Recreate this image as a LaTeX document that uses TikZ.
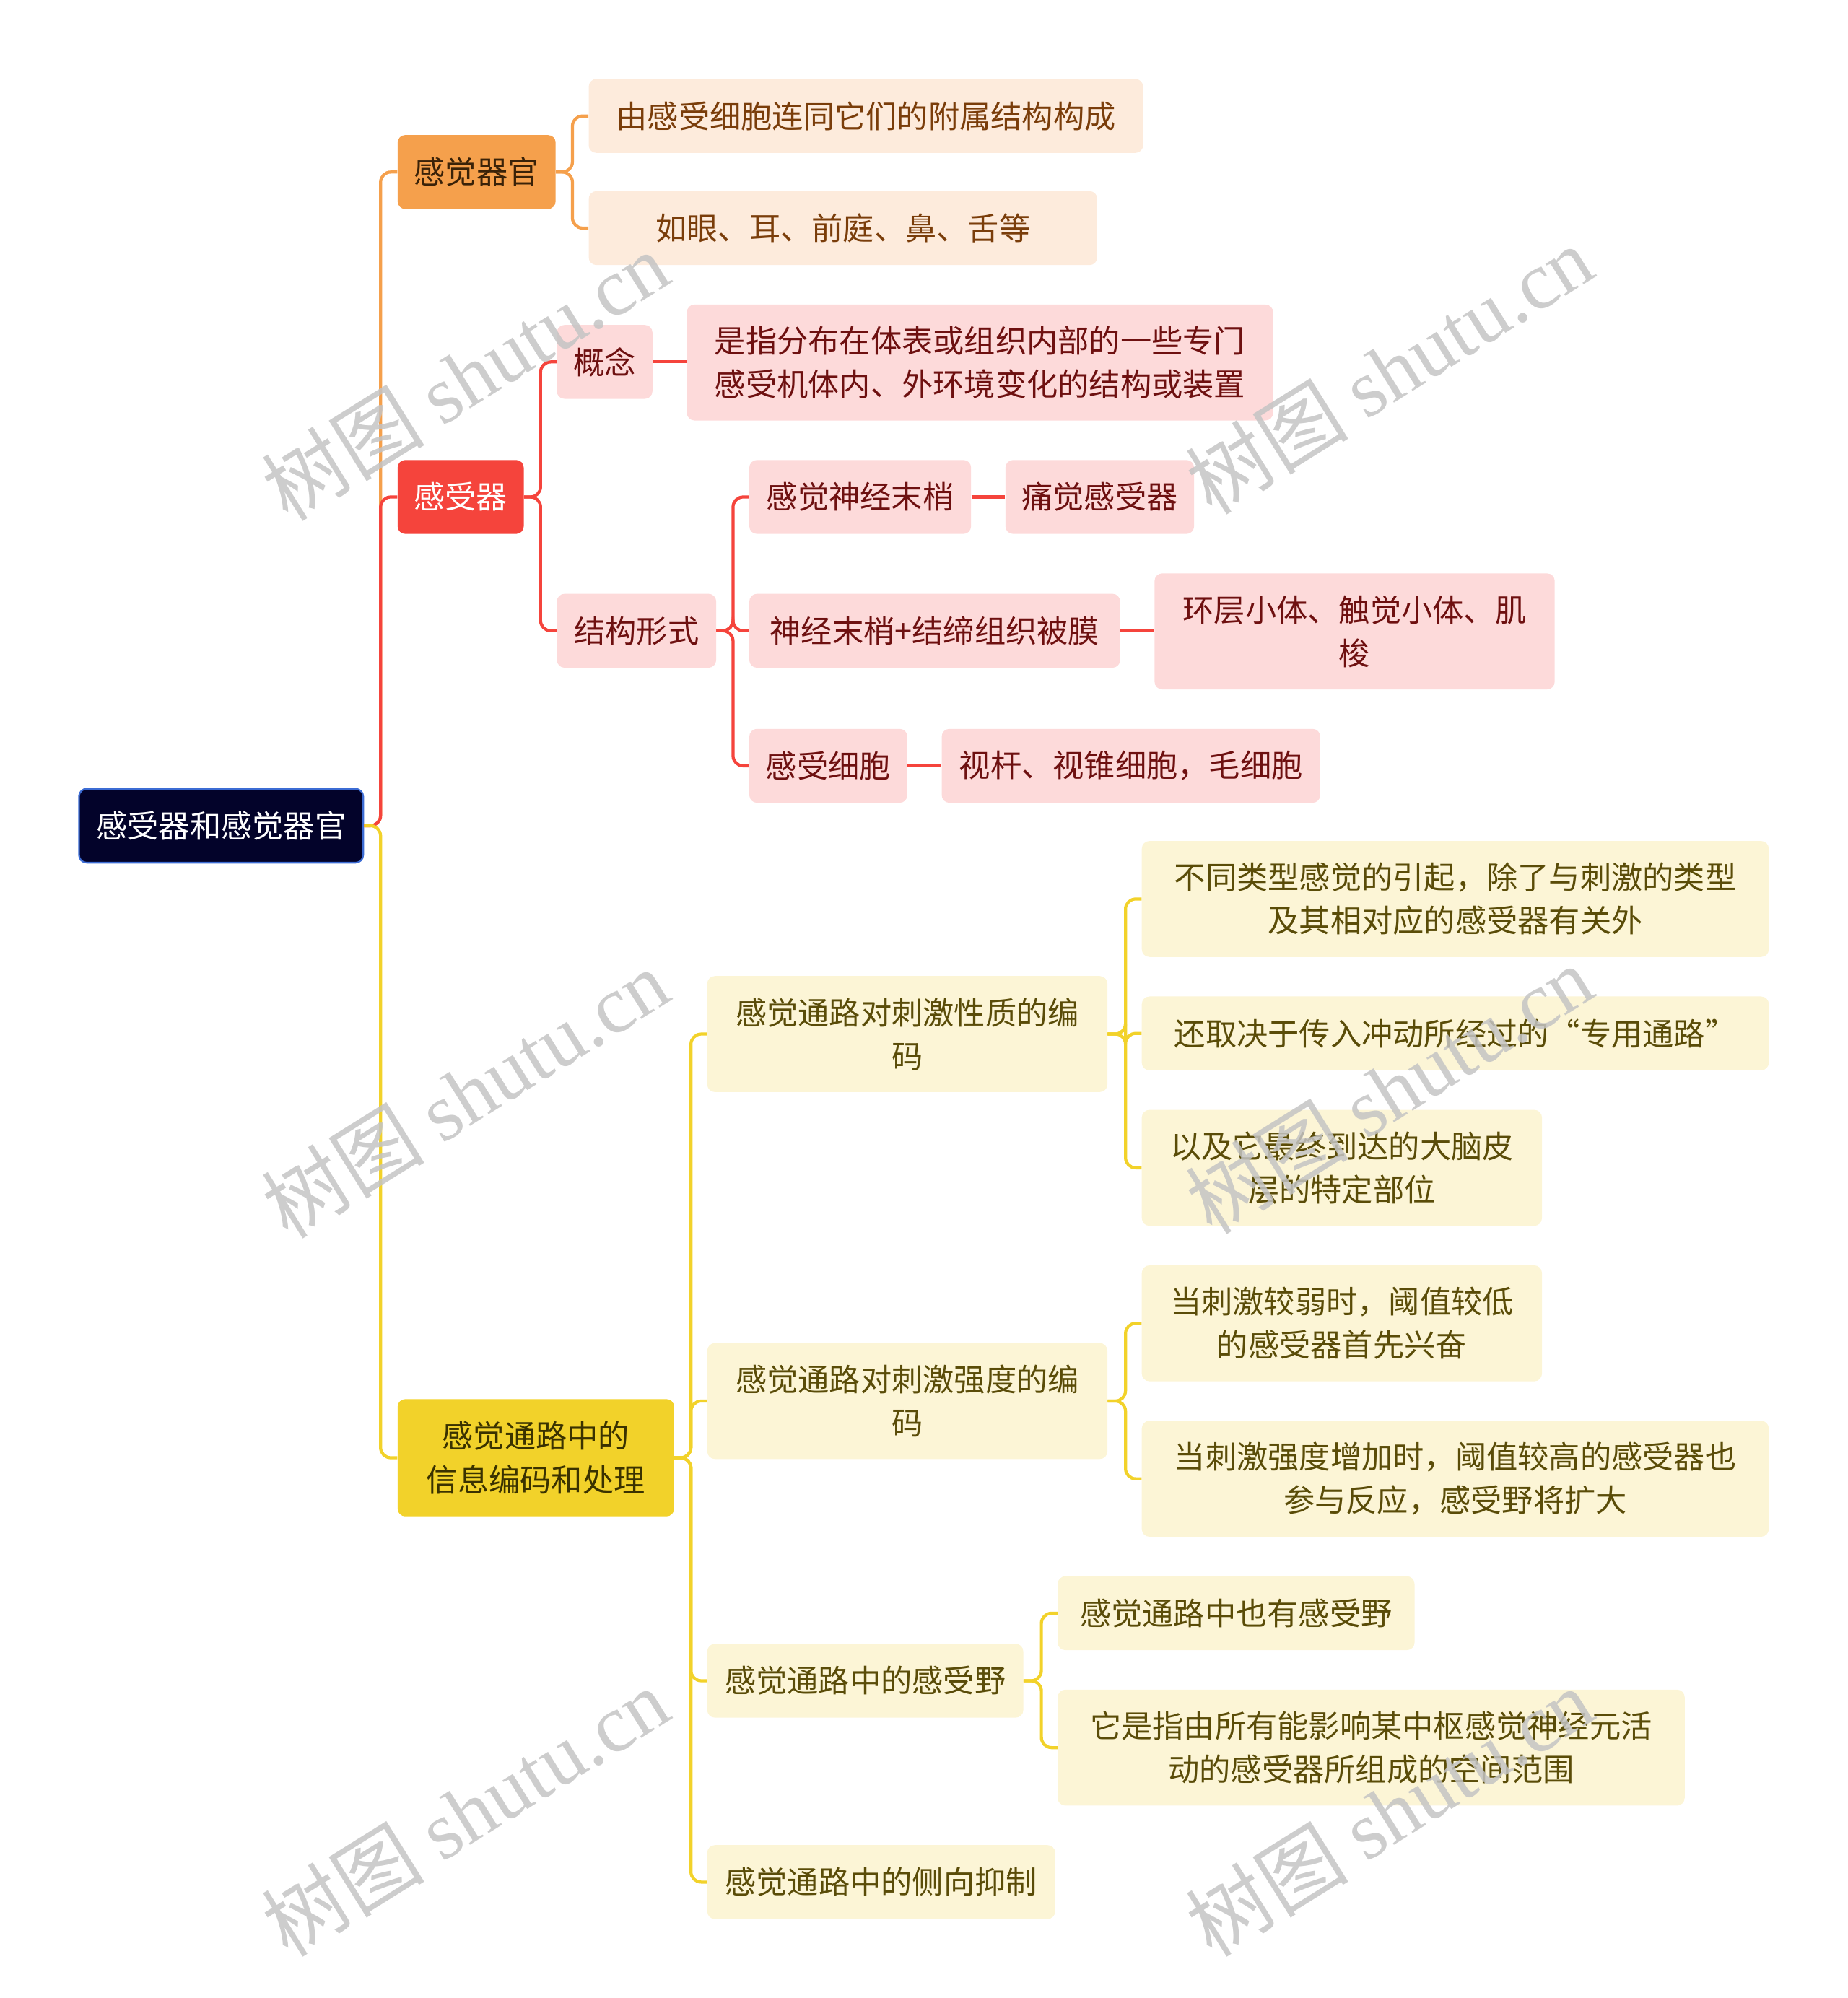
\documentclass[tikz,border=0pt]{standalone}
\usepackage{fontspec}
\setmainfont{Noto Sans CJK SC}
\newfontfamily\wmlatin{Liberation Serif}
\definecolor{rootfill}{HTML}{03032A}
\definecolor{rootline}{HTML}{3C6CD4}
\definecolor{organ}{HTML}{F5A04C}
\definecolor{organtext}{HTML}{3A2208}
\definecolor{organlight}{HTML}{FDEBDC}
\definecolor{organdark}{HTML}{7A3D0A}
\definecolor{rec}{HTML}{F5443C}
\definecolor{reclight}{HTML}{FDDADA}
\definecolor{recdark}{HTML}{6E1010}
\definecolor{code}{HTML}{F2D22A}
\definecolor{codetext}{HTML}{3A3200}
\definecolor{codelight}{HTML}{FCF5D6}
\definecolor{codedark}{HTML}{5A4C08}
\definecolor{wmgray}{HTML}{C4C4C4}

\begin{document}
\begin{tikzpicture}[x=1pt,y=-1pt]
				\tikzstyle{box}=[rectangle,rounded corners=6pt,inner sep=0pt,align=center,
				font=\fontsize{24.5}{34}\selectfont]
				\tikzstyle{rootbox}=[box,fill=rootfill,draw=rootline,line width=1.3pt,text=white]
				\tikzstyle{organbox}=[box,fill=organ,text=organtext]
				\tikzstyle{recbox}=[box,fill=rec,text=white]
				\tikzstyle{codebox}=[box,fill=code,text=codetext]
				\tikzstyle{organleaf}=[box,fill=organlight,text=organdark]
				\tikzstyle{recleaf}=[box,fill=reclight,text=recdark]
				\tikzstyle{codeleaf}=[box,fill=codelight,text=codedark]
				\tikzstyle{link}=[line width=2.4pt,rounded corners=8pt]
				\tikzstyle{wm}=[text=wmgray,opacity=0.85,rotate=32,inner sep=0pt,
				font=\fontsize{64}{64}\selectfont]
				\useasboundingbox (0,0) rectangle (1450,1568);
				\node[rootbox,minimum width=223,minimum height=58] (root) at (173.5,648) {感受器和感觉器官};
				\node[organbox,minimum width=124,minimum height=58] (organ) at (374,135) {感觉器官};
				\node[recbox,minimum width=99,minimum height=58] (rec) at (361.5,390) {感受器};
				\node[codebox,minimum width=217,minimum height=92] (code) at (420.5,1144) {感觉通路中的\\信息编码和处理};
				\node[organleaf,minimum width=435,minimum height=58] (organA) at (679.5,91) {由感受细胞连同它们的附属结构构成};
				\node[organleaf,minimum width=399,minimum height=58] (organB) at (661.5,179) {如眼、耳、前庭、鼻、舌等};
				\node[recleaf,minimum width=75,minimum height=58] (concept) at (474.5,284) {概念};
				\node[recleaf,minimum width=460,minimum height=91] (conceptdef) at (769,284.5) {是指分布在体表或组织内部的一些专门\\感受机体内、外环境变化的结构或装置};
				\node[recleaf,minimum width=125,minimum height=58] (form) at (499.5,495) {结构形式};
				\node[recleaf,minimum width=174,minimum height=58] (formA) at (675,390) {感觉神经末梢};
				\node[recleaf,minimum width=291,minimum height=58] (formB) at (733.5,495) {神经末梢+结缔组织被膜};
				\node[recleaf,minimum width=124,minimum height=58] (formC) at (650,601) {感受细胞};
				\node[recleaf,minimum width=148,minimum height=58] (pain) at (863,390) {痛觉感受器};
				\node[recleaf,minimum width=314,minimum height=91] (bodies) at (1063,495.5) {环层小体、触觉小体、肌\\梭};
				\node[recleaf,minimum width=297,minimum height=58] (cells) at (887.5,601) {视杆、视锥细胞，毛细胞};
				\node[codeleaf,minimum width=314,minimum height=91] (quality) at (712,811.5) {感觉通路对刺激性质的编\\码};
				\node[codeleaf,minimum width=492,minimum height=91] (qualA) at (1142,705.5) {不同类型感觉的引起，除了与刺激的类型\\及其相对应的感受器有关外};
				\node[codeleaf,minimum width=492,minimum height=58] (qualB) at (1142,811) {还取决于传入冲动所经过的“专用通路”};
				\node[codeleaf,minimum width=314,minimum height=91] (qualC) at (1053,916.5) {以及它最终到达的大脑皮\\层的特定部位};
				\node[codeleaf,minimum width=314,minimum height=91] (strength) at (712,1099.5) {感觉通路对刺激强度的编\\码};
				\node[codeleaf,minimum width=314,minimum height=91] (strA) at (1053,1038.5) {当刺激较弱时，阈值较低\\的感受器首先兴奋};
				\node[codeleaf,minimum width=492,minimum height=91] (strB) at (1142,1160.5) {当刺激强度增加时，阈值较高的感受器也\\参与反应，感受野将扩大};
				\node[codeleaf,minimum width=248,minimum height=58] (field) at (679,1319) {感觉通路中的感受野};
				\node[codeleaf,minimum width=280,minimum height=58] (fieldA) at (970,1266) {感觉通路中也有感受野};
				\node[codeleaf,minimum width=492,minimum height=91] (fieldB) at (1076,1371.5) {它是指由所有能影响某中枢感觉神经元活\\动的感受器所组成的空间范围};
				\node[codeleaf,minimum width=273,minimum height=58] (inhib) at (691.5,1477) {感觉通路中的侧向抑制};
				\draw[link,organ] (root.east) -- ++(13,0) |- (organ.west);
				\draw[link,rec] (root.east) -- ++(13,0) |- (rec.west);
				\draw[link,code] (root.east) -- ++(13,0) |- (code.west);
				\foreach \c in {organA,organB}
					\draw[link,organ] (organ.east) -- ++(13,0) |- (\c.west);
				\foreach \c in {concept,form}
					\draw[link,rec] (rec.east) -- ++(13,0) |- (\c.west);
				\draw[link,rec] (concept.east) -- (conceptdef.west |- concept.east);
				\foreach \c in {formA,formB,formC}
					\draw[link,rec] (form.east) -- ++(13,0) |- (\c.west);
				\draw[link,rec] (formA.east) -- (pain.west);
				\draw[link,rec] (formB.east) -- (bodies.west |- formB.east);
				\draw[link,rec] (formC.east) -- (cells.west);
				\foreach \c in {quality,strength,field,inhib}
					\draw[link,code] (code.east) -- ++(13,0) |- (\c.west);
				\foreach \c in {qualA,qualB,qualC}
					\draw[link,code] (quality.east) -- ++(14,0) |- (\c.west);
				\foreach \c in {strA,strB}
					\draw[link,code] (strength.east) -- ++(14,0) |- (\c.west);
				\foreach \c in {fieldA,fieldB}
					\draw[link,code] (field.east) -- ++(14,0) |- (\c.west);
				\node[wm] (wm1) at (365,295) {树图 {\wmlatin shutu.cn}};
				\node[wm] (wm2) at (1090,290) {树图 {\wmlatin shutu.cn}};
				\node[wm] (wm3) at (365,858) {树图 {\wmlatin shutu.cn}};
				\node[wm] (wm4) at (1090,855) {树图 {\wmlatin shutu.cn}};
				\node[wm] (wm5) at (365,1422) {树图 {\wmlatin shutu.cn}};
				\node[wm] (wm6) at (1090,1422) {树图 {\wmlatin shutu.cn}};
				\end{tikzpicture}
\end{document}
